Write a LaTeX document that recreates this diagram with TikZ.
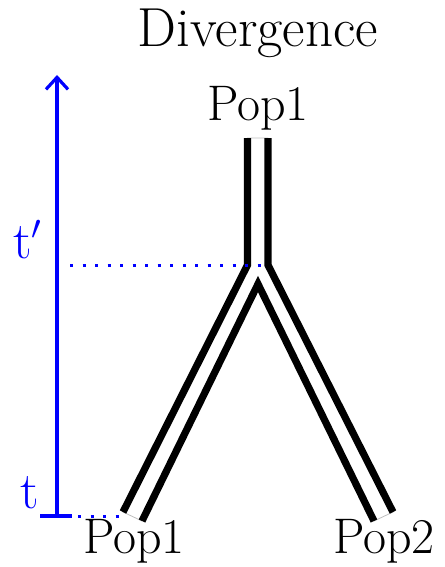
\documentclass[tikz,border=0pt]{standalone}
\usetikzlibrary{arrows.meta}
\begin{document}
\begin{tikzpicture}[x=0.5pt,y=-0.5pt,
  lbl/.style={inner sep=0pt,anchor=base,font=\fontsize{25}{30}\selectfont},
  bluelbl/.style={inner sep=0pt,anchor=base,text=blue,font=\fontsize{26}{30}\selectfont},
  branch/.style={line width=3.6pt,line join=miter,line cap=butt},
  tube/.style={fill=white,draw=gray!50,line width=0.4pt},
  axis/.style={blue,line width=1.8pt},
  dots/.style={blue,line width=1.5pt,dash pattern=on 1.5pt off 4.75pt}]
\useasboundingbox (0,0) rectangle (444,567);
% tube coordinates
\coordinate (TL) at (247.5,138);
\coordinate (TR) at (268,138);
\coordinate (JL) at (247.5,265);
\coordinate (JR) at (268,265);
\coordinate (A) at (258,284);
\coordinate (BLo) at (123,512);
\coordinate (BLi) at (142,521);
\coordinate (BRi) at (374,521);
\coordinate (BRo) at (393,512);
\fill[tube] (TL) -- (TR) -- (JR) -- (BRo) -- (BRi) -- (A) -- (BLi) -- (BLo) -- (JL) -- cycle;
\draw[branch] (TL) -- (JL) -- (BLo);
\draw[branch] (TR) -- (JR) -- (BRo);
\draw[branch] (BLi) -- (A) -- (BRi);
% axis
\coordinate (Ab) at (57,516);
\coordinate (At) at (57,75);
\coordinate (Tk1) at (40,516);
\coordinate (Tk2) at (72,516);
\draw[axis,-{Straight Barb[length=6pt,width=11pt,line width=1.6pt]}] (Ab) -- (At);
\draw[axis] (Tk1) -- (Tk2);
\coordinate (D1a) at (70,265);
\coordinate (D1b) at (262,265);
\coordinate (D2a) at (78,516);
\coordinate (D2b) at (126,516);
\draw[dots] (D1a) -- (D1b);
\draw[dots] (D2a) -- (D2b);
% labels
\node[lbl,font=\fontsize{27.5}{32}\selectfont] (title) at (258,47) {Divergence};
\node[lbl] (ptop) at (258,120) {Pop1};
\node[lbl] (pbl) at (134,553) {Pop1};
\node[lbl] (pbr) at (384,553) {Pop2};
\node[bluelbl] (tp) at (28,258) {t$'$};
\node[bluelbl] (t) at (30,508) {t};
\end{tikzpicture}
\end{document}
